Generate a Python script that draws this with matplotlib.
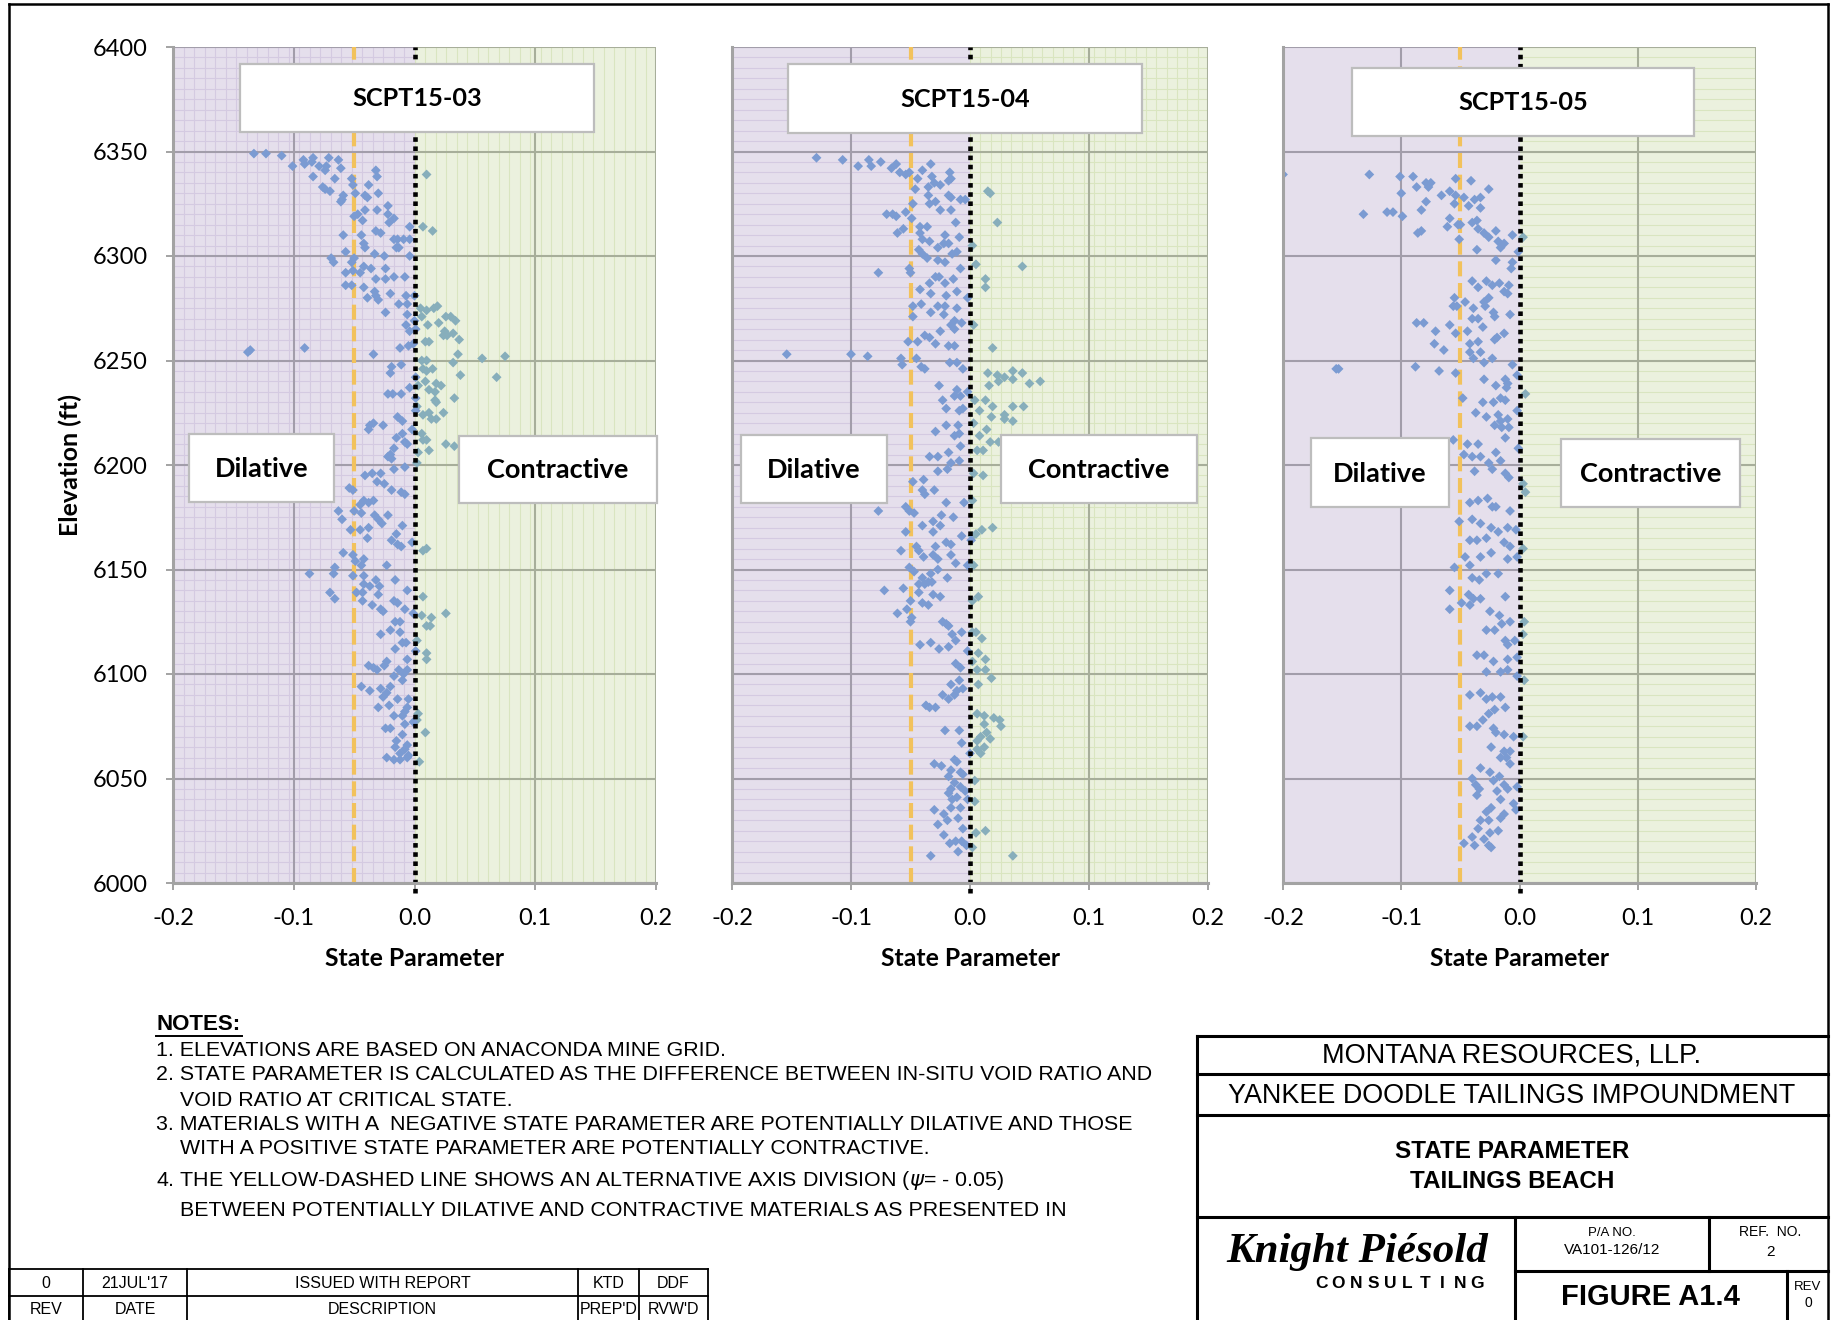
import numpy as np
import matplotlib
matplotlib.use('Agg')
import matplotlib.pyplot as plt
from matplotlib.patches import Rectangle

W, H = 1835, 1320

# state parameter (psi) vs elevation (ft)
pts_03 = [
    (-0.133, 6349), (-0.123, 6349), (-0.110, 6348), (-0.101, 6343), (-0.092, 6346), (-0.091, 6344), (-0.084, 6347),
    (-0.085, 6345), (-0.079, 6343), (-0.074, 6341), (-0.071, 6347), (-0.063, 6346), (-0.073, 6343), (-0.061, 6342),
    (-0.084, 6338), (-0.066, 6337), (-0.052, 6337), (-0.051, 6334), (-0.032, 6341), (-0.031, 6338), (-0.038, 6334),
    (0.010, 6339), (-0.076, 6333), (-0.074, 6332), (-0.070, 6331), (-0.059, 6329), (-0.060, 6327), (-0.061, 6326),
    (-0.049, 6330), (-0.041, 6329), (-0.039, 6328), (-0.030, 6330), (-0.022, 6324), (-0.022, 6320), (-0.017, 6318),
    (-0.021, 6316), (-0.031, 6322), (-0.041, 6322), (-0.047, 6320), (-0.043, 6317), (-0.050, 6319), (-0.032, 6312),
    (-0.028, 6311), (-0.059, 6310), (-0.044, 6310), (-0.042, 6306), (-0.041, 6304), (-0.017, 6308), (-0.014, 6308),
    (-0.009, 6308), (-0.004, 6308), (-0.015, 6304), (-0.013, 6304), (-0.004, 6314), (0.007, 6314), (0.015, 6312),
    (-0.057, 6302), (-0.033, 6301), (-0.025, 6300), (-0.004, 6300), (-0.069, 6299), (-0.067, 6297), (-0.050, 6299),
    (-0.052, 6297), (-0.042, 6295), (-0.036, 6294), (-0.057, 6292), (-0.051, 6293), (-0.045, 6292), (-0.024, 6294),
    (-0.008, 6290), (-0.032, 6289), (-0.024, 6289), (-0.017, 6290), (-0.057, 6286), (-0.052, 6286), (-0.042, 6285),
    (-0.039, 6280), (-0.032, 6281), (-0.030, 6279), (-0.033, 6283), (-0.020, 6282), (-0.007, 6281), (-0.013, 6277),
    (-0.006, 6277), (0.000, 6281), (-0.024, 6273), (-0.006, 6272), (0.005, 6275), (0.010, 6274), (0.016, 6275),
    (0.019, 6276), (0.026, 6271), (0.030, 6271), (0.034, 6269), (0.006, 6271), (0.000, 6269), (-0.007, 6267),
    (0.011, 6267), (0.020, 6268), (0.001, 6265), (-0.004, 6264), (0.025, 6264), (0.024, 6262), (0.027, 6262),
    (0.032, 6263), (0.037, 6260), (0.009, 6259), (0.012, 6259), (-0.001, 6258), (-0.012, 6256), (-0.005, 6257),
    (-0.091, 6256), (-0.138, 6254), (-0.136, 6255), (-0.034, 6253), (0.036, 6253), (0.056, 6251), (0.075, 6252),
    (0.010, 6250), (0.006, 6250), (0.032, 6249), (0.068, 6242), (0.038, 6243), (-0.019, 6247), (-0.011, 6248),
    (0.007, 6246), (0.010, 6245), (0.015, 6246), (-0.020, 6244), (0.001, 6242), (0.009, 6240), (0.003, 6238),
    (-0.004, 6237), (0.012, 6236), (0.018, 6239), (0.022, 6238), (0.017, 6235), (0.033, 6232), (-0.022, 6234),
    (-0.018, 6234), (-0.011, 6234), (0.001, 6232), (0.017, 6231), (0.018, 6230), (0.002, 6228), (0.001, 6226),
    (0.012, 6225), (0.024, 6225), (0.007, 6224), (0.014, 6222), (0.018, 6222), (-0.014, 6223), (-0.010, 6221),
    (-0.034, 6220), (-0.037, 6219), (-0.038, 6217), (-0.026, 6219), (-0.002, 6217), (-0.010, 6215), (-0.015, 6213),
    (0.006, 6215), (0.007, 6212), (0.010, 6212), (0.026, 6210), (0.033, 6209), (0.012, 6207), (-0.017, 6208),
    (-0.008, 6211), (-0.006, 6210), (-0.020, 6205), (-0.022, 6204), (-0.019, 6203), (0.002, 6201), (0.003, 6206),
    (-0.017, 6198), (-0.008, 6199), (-0.041, 6195), (-0.035, 6196), (-0.028, 6196), (-0.031, 6192), (-0.025, 6191),
    (-0.054, 6189), (-0.051, 6188), (-0.019, 6188), (-0.011, 6187), (-0.008, 6186), (-0.042, 6183), (-0.038, 6182),
    (-0.034, 6183), (-0.045, 6181), (-0.063, 6178), (-0.060, 6174), (-0.050, 6178), (-0.044, 6177), (-0.033, 6176),
    (-0.030, 6174), (-0.022, 6176), (-0.027, 6172), (-0.010, 6171), (-0.053, 6169), (-0.045, 6169), (-0.038, 6170),
    (-0.039, 6165), (-0.015, 6167), (-0.019, 6164), (-0.014, 6162), (-0.011, 6161), (-0.002, 6163), (0.007, 6159),
    (0.010, 6160), (-0.059, 6158), (-0.051, 6157), (-0.049, 6154), (-0.042, 6155), (-0.044, 6152), (-0.023, 6152),
    (-0.087, 6148), (-0.066, 6151), (-0.067, 6148), (-0.051, 6147), (-0.042, 6147), (-0.032, 6145), (-0.042, 6143),
    (-0.037, 6142), (-0.029, 6142), (-0.016, 6145), (-0.006, 6140), (-0.070, 6139), (-0.066, 6136), (-0.048, 6139),
    (-0.043, 6139), (-0.030, 6138), (-0.043, 6135), (-0.017, 6135), (-0.014, 6134), (0.007, 6137), (-0.035, 6133),
    (-0.028, 6131), (-0.026, 6130), (-0.008, 6131), (-0.001, 6129), (0.006, 6128), (0.014, 6127), (0.026, 6129),
    (-0.016, 6125), (-0.012, 6125), (0.010, 6123), (0.013, 6123), (-0.028, 6119), (-0.020, 6121), (-0.012, 6120),
    (0.002, 6116), (-0.010, 6115), (-0.007, 6115), (-0.016, 6112), (0.001, 6111), (0.010, 6110), (0.010, 6107),
    (-0.006, 6107), (-0.023, 6106), (-0.038, 6104), (-0.034, 6103), (-0.025, 6104), (-0.031, 6102), (-0.013, 6102),
    (-0.006, 6102), (-0.017, 6099), (-0.009, 6100), (-0.010, 6097), (-0.044, 6094), (-0.037, 6092), (-0.028, 6093),
    (-0.023, 6091), (-0.020, 6094), (-0.026, 6089), (-0.014, 6088), (-0.005, 6088), (-0.006, 6084), (-0.030, 6084),
    (-0.021, 6085), (0.003, 6081), (0.002, 6078), (-0.017, 6080), (-0.010, 6080), (-0.008, 6082), (-0.001, 6077),
    (-0.008, 6076), (-0.024, 6074), (-0.020, 6074), (-0.010, 6071), (0.009, 6072), (-0.015, 6068), (-0.016, 6065),
    (-0.006, 6066), (-0.008, 6064), (-0.012, 6062), (-0.005, 6061), (-0.023, 6060), (-0.017, 6059), (-0.012, 6059),
    (-0.006, 6060), (0.004, 6058),
]

pts_04 = [
    (-0.129, 6347), (-0.107, 6346), (-0.094, 6343), (-0.085, 6346), (-0.083, 6343), (-0.075, 6345), (-0.066, 6342),
    (-0.062, 6344), (-0.059, 6340), (-0.054, 6339), (-0.051, 6340), (-0.040, 6341), (-0.033, 6344), (-0.032, 6338),
    (-0.017, 6340), (-0.016, 6337), (-0.044, 6337), (-0.035, 6333), (-0.030, 6335), (-0.025, 6334), (-0.018, 6336),
    (-0.046, 6332), (-0.035, 6329), (-0.018, 6329), (-0.016, 6328), (-0.008, 6327), (-0.004, 6327), (0.015, 6331),
    (0.017, 6330), (-0.048, 6325), (-0.034, 6325), (-0.029, 6326), (-0.025, 6322), (-0.016, 6322), (-0.070, 6320),
    (-0.065, 6320), (-0.062, 6319), (-0.054, 6321), (-0.049, 6318), (0.023, 6316), (-0.012, 6316), (-0.042, 6314),
    (-0.036, 6314), (-0.056, 6313), (-0.061, 6311), (-0.042, 6311), (-0.040, 6308), (-0.034, 6307), (-0.021, 6310),
    (-0.009, 6309), (-0.027, 6304), (-0.022, 6306), (-0.018, 6306), (0.002, 6305), (-0.043, 6303), (-0.040, 6301),
    (-0.036, 6299), (-0.027, 6298), (-0.021, 6297), (-0.015, 6301), (-0.011, 6302), (0.005, 6296), (0.044, 6295),
    (-0.008, 6294), (-0.051, 6294), (-0.050, 6292), (-0.077, 6292), (-0.029, 6290), (-0.026, 6290), (-0.034, 6287),
    (-0.021, 6287), (-0.014, 6289), (0.013, 6289), (0.013, 6285), (-0.042, 6284), (-0.033, 6282), (-0.020, 6281),
    (-0.011, 6283), (-0.002, 6280), (-0.041, 6277), (-0.048, 6276), (-0.027, 6276), (-0.021, 6276), (-0.033, 6273),
    (-0.022, 6272), (-0.011, 6275), (-0.016, 6267), (-0.013, 6269), (-0.007, 6268), (0.003, 6267), (-0.048, 6271),
    (-0.013, 6265), (-0.038, 6262), (-0.034, 6261), (-0.025, 6264), (-0.044, 6259), (-0.052, 6259), (-0.029, 6258),
    (-0.018, 6257), (-0.013, 6257), (0.019, 6256), (-0.154, 6253), (-0.100, 6253), (-0.086, 6252), (-0.058, 6251),
    (-0.057, 6248), (-0.045, 6251), (-0.041, 6247), (-0.038, 6246), (-0.017, 6249), (-0.011, 6249), (-0.006, 6246),
    (0.015, 6244), (0.023, 6243), (0.029, 6242), (0.036, 6245), (0.044, 6244), (0.036, 6241), (0.050, 6239),
    (0.059, 6240), (0.016, 6238), (0.024, 6240), (-0.026, 6238), (-0.011, 6236), (-0.013, 6233), (-0.008, 6233),
    (-0.002, 6235), (-0.023, 6231), (0.004, 6231), (0.013, 6231), (0.019, 6228), (0.036, 6228), (0.045, 6228),
    (-0.020, 6227), (-0.009, 6226), (-0.006, 6227), (0.008, 6226), (0.029, 6224), (0.018, 6223), (0.029, 6222),
    (0.036, 6221), (0.003, 6220), (-0.010, 6219), (-0.020, 6219), (-0.029, 6216), (0.014, 6217), (-0.013, 6214),
    (-0.009, 6215), (0.008, 6214), (-0.008, 6209), (0.017, 6211), (0.024, 6211), (0.006, 6207), (0.011, 6207),
    (-0.034, 6204), (-0.027, 6204), (-0.018, 6206), (-0.016, 6201), (-0.009, 6202), (-0.027, 6197), (-0.019, 6198),
    (0.003, 6196), (0.011, 6195), (-0.048, 6192), (-0.039, 6193), (-0.038, 6186), (-0.040, 6188), (-0.030, 6188),
    (-0.020, 6182), (-0.005, 6182), (0.002, 6183), (-0.077, 6178), (-0.054, 6180), (-0.051, 6178), (-0.047, 6177),
    (-0.024, 6176), (-0.014, 6175), (-0.031, 6173), (-0.025, 6171), (-0.040, 6171), (-0.054, 6168), (-0.031, 6168),
    (0.010, 6169), (0.019, 6170), (-0.007, 6166), (0.002, 6166), (0.005, 6167), (0.001, 6164), (-0.020, 6163),
    (-0.016, 6162), (-0.058, 6159), (-0.045, 6161), (-0.043, 6159), (-0.039, 6156), (-0.029, 6161), (-0.031, 6157),
    (-0.027, 6155), (-0.016, 6157), (-0.012, 6153), (-0.002, 6152), (0.003, 6152), (-0.051, 6151), (-0.047, 6149),
    (-0.033, 6148), (-0.027, 6150), (-0.040, 6146), (-0.019, 6146), (-0.043, 6143), (-0.038, 6143), (-0.035, 6144),
    (-0.032, 6144), (-0.072, 6140), (-0.056, 6141), (-0.043, 6139), (-0.031, 6138), (-0.025, 6137), (0.007, 6137),
    (-0.050, 6135), (-0.040, 6134), (-0.035, 6133), (0.002, 6135), (-0.061, 6129), (-0.053, 6131), (-0.049, 6127),
    (-0.050, 6125), (-0.023, 6125), (-0.020, 6124), (-0.018, 6123), (-0.007, 6120), (0.002, 6120), (0.005, 6120),
    (-0.015, 6119), (0.010, 6117), (-0.042, 6114), (-0.033, 6115), (-0.026, 6112), (-0.018, 6113), (-0.012, 6116),
    (-0.002, 6111), (0.007, 6110), (0.013, 6107), (-0.012, 6105), (-0.008, 6103), (0.002, 6106), (0.006, 6102),
    (0.013, 6102), (0.018, 6098), (-0.016, 6095), (-0.009, 6097), (-0.006, 6093), (0.007, 6095), (-0.023, 6090),
    (-0.018, 6088), (-0.013, 6090), (-0.011, 6092), (-0.037, 6085), (-0.034, 6084), (-0.029, 6084), (0.006, 6081),
    (0.012, 6080), (0.020, 6079), (0.025, 6078), (0.026, 6075), (0.012, 6076), (-0.021, 6073), (-0.009, 6073),
    (0.014, 6072), (0.009, 6070), (0.017, 6069), (-0.007, 6067), (0.006, 6068), (0.012, 6065), (0.006, 6064),
    (0.000, 6062), (0.009, 6062), (-0.030, 6057), (-0.013, 6059), (-0.011, 6058), (-0.024, 6056), (-0.016, 6054),
    (-0.008, 6053), (-0.006, 6052), (-0.018, 6051), (0.004, 6049), (-0.013, 6048), (-0.016, 6045), (-0.008, 6046),
    (-0.004, 6044), (-0.018, 6043), (-0.011, 6041), (-0.015, 6040), (-0.002, 6040), (0.004, 6039), (-0.016, 6036),
    (-0.008, 6036), (-0.030, 6035), (-0.022, 6033), (-0.027, 6028), (-0.019, 6030), (-0.010, 6031), (-0.006, 6026),
    (0.005, 6024), (0.013, 6025), (-0.022, 6023), (-0.017, 6019), (-0.012, 6020), (-0.007, 6020), (-0.003, 6018),
    (0.002, 6017), (-0.010, 6015), (-0.033, 6013), (0.036, 6013),
]

pts_05 = [
    (-0.200, 6339), (-0.127, 6339), (-0.101, 6338), (-0.090, 6338), (-0.087, 6333), (-0.079, 6335), (-0.077, 6333),
    (-0.075, 6335), (-0.100, 6330), (-0.066, 6329), (-0.059, 6331), (-0.054, 6337), (-0.041, 6336), (-0.047, 6328),
    (-0.054, 6329), (-0.079, 6326), (-0.083, 6322), (-0.055, 6325), (-0.043, 6324), (-0.038, 6327), (-0.033, 6328),
    (-0.026, 6332), (-0.033, 6323), (-0.132, 6320), (-0.112, 6321), (-0.107, 6321), (-0.099, 6319), (-0.059, 6318),
    (-0.052, 6315), (-0.050, 6315), (-0.061, 6314), (-0.040, 6316), (-0.036, 6317), (-0.035, 6313), (-0.086, 6311),
    (-0.083, 6312), (-0.051, 6308), (-0.030, 6311), (-0.026, 6309), (-0.020, 6312), (-0.006, 6310), (0.003, 6309),
    (-0.018, 6307), (-0.013, 6306), (-0.016, 6304), (-0.036, 6303), (-0.001, 6302), (-0.006, 6297), (-0.020, 6298),
    (-0.007, 6294), (-0.040, 6288), (-0.035, 6285), (-0.028, 6288), (-0.023, 6286), (-0.017, 6287), (-0.009, 6286),
    (-0.013, 6283), (-0.010, 6282), (-0.055, 6280), (-0.046, 6278), (-0.053, 6276), (-0.056, 6276), (-0.030, 6278),
    (-0.026, 6280), (-0.029, 6276), (-0.022, 6273), (-0.021, 6271), (-0.008, 6272), (-0.039, 6275), (-0.035, 6270),
    (-0.040, 6270), (-0.087, 6268), (-0.081, 6268), (-0.059, 6267), (-0.054, 6263), (-0.044, 6264), (-0.031, 6266),
    (-0.071, 6264), (-0.072, 6258), (-0.064, 6255), (-0.042, 6258), (-0.035, 6259), (-0.019, 6261), (-0.013, 6263),
    (-0.021, 6260), (-0.042, 6254), (-0.033, 6254), (-0.030, 6249), (-0.039, 6251), (-0.023, 6251), (-0.155, 6246),
    (-0.153, 6246), (-0.088, 6247), (-0.068, 6245), (-0.054, 6244), (-0.006, 6248), (-0.002, 6243), (-0.030, 6241),
    (-0.012, 6241), (-0.010, 6239), (-0.011, 6237), (-0.020, 6238), (0.005, 6234), (-0.048, 6232), (-0.031, 6230),
    (-0.022, 6230), (-0.016, 6232), (-0.012, 6231), (-0.002, 6226), (-0.037, 6225), (-0.028, 6223), (-0.018, 6224),
    (-0.016, 6221), (-0.010, 6222), (-0.021, 6219), (-0.015, 6218), (-0.009, 6218), (-0.012, 6213), (-0.001, 6208),
    (-0.056, 6212), (-0.044, 6210), (-0.035, 6210), (-0.020, 6206), (-0.047, 6205), (-0.040, 6204), (-0.033, 6204),
    (-0.026, 6201), (-0.016, 6202), (-0.038, 6197), (-0.023, 6198), (-0.012, 6196), (0.003, 6191), (-0.009, 6194),
    (0.005, 6187), (-0.042, 6182), (-0.035, 6183), (-0.027, 6184), (-0.023, 6180), (-0.020, 6180), (-0.008, 6178),
    (-0.051, 6173), (-0.040, 6174), (-0.033, 6172), (-0.024, 6170), (-0.018, 6168), (-0.010, 6170), (-0.003, 6169),
    (-0.042, 6164), (-0.036, 6164), (-0.028, 6165), (-0.013, 6163), (-0.008, 6161), (0.003, 6160), (-0.046, 6156),
    (-0.033, 6156), (-0.024, 6158), (-0.010, 6155), (-0.002, 6156), (-0.055, 6151), (-0.042, 6152), (-0.028, 6148),
    (-0.018, 6148), (-0.040, 6146), (-0.034, 6145), (-0.059, 6140), (-0.043, 6138), (-0.039, 6136), (-0.033, 6136),
    (-0.012, 6137), (-0.059, 6131), (-0.049, 6134), (-0.042, 6133), (-0.025, 6130), (0.004, 6125), (-0.017, 6128),
    (-0.008, 6125), (-0.028, 6121), (-0.021, 6121), (-0.015, 6124), (0.003, 6119), (-0.012, 6116), (-0.010, 6114),
    (-0.004, 6116), (-0.036, 6109), (-0.030, 6109), (-0.022, 6106), (-0.010, 6107), (-0.002, 6108), (-0.028, 6101),
    (-0.016, 6101), (-0.010, 6102), (-0.002, 6099), (0.004, 6097), (-0.042, 6090), (-0.033, 6091), (-0.028, 6088),
    (-0.023, 6089), (-0.016, 6089), (-0.012, 6084), (-0.021, 6083), (-0.026, 6081), (-0.031, 6078), (-0.042, 6075),
    (-0.036, 6075), (-0.022, 6074), (-0.020, 6072), (-0.013, 6071), (0.003, 6070), (-0.005, 6070), (-0.024, 6065),
    (-0.013, 6063), (-0.008, 6063), (-0.016, 6060), (-0.011, 6060), (-0.008, 6057), (-0.033, 6055), (-0.025, 6053),
    (-0.017, 6051), (-0.040, 6050), (-0.037, 6047), (-0.022, 6049), (-0.013, 6047), (-0.036, 6042), (-0.034, 6045),
    (-0.019, 6044), (-0.010, 6045), (-0.002, 6046), (-0.016, 6040), (-0.005, 6038), (-0.024, 6036), (-0.028, 6034),
    (-0.013, 6033), (-0.003, 6035), (-0.033, 6030), (-0.026, 6030), (-0.016, 6031), (-0.035, 6026), (-0.025, 6024),
    (-0.018, 6025), (-0.040, 6022), (-0.030, 6021), (-0.047, 6019), (-0.038, 6018), (-0.026, 6018), (-0.024, 6017),
]

holes = ['SCPT15-03', 'SCPT15-04', 'SCPT15-05']
x_ticks = [-0.2, -0.1, 0.0, 0.1, 0.2]
y_ticks = [6000, 6050, 6100, 6150, 6200, 6250, 6300, 6350, 6400]
psi_alt = -0.05

notes = [
    '1. ELEVATIONS ARE BASED ON ANACONDA MINE GRID.',
    '2. STATE PARAMETER IS CALCULATED AS THE DIFFERENCE BETWEEN IN-SITU VOID RATIO AND',
    '    VOID RATIO AT CRITICAL STATE.',
    '3. MATERIALS WITH A  NEGATIVE STATE PARAMETER ARE POTENTIALLY DILATIVE AND THOSE',
    '    WITH A POSITIVE STATE PARAMETER ARE POTENTIALLY CONTRACTIVE.',
    '4. THE YELLOW-DASHED LINE SHOWS AN ALTERNATIVE AXIS DIVISION ($\\psi$= - 0.05)',
    '    BETWEEN POTENTIALLY DILATIVE AND CONTRACTIVE MATERIALS AS PRESENTED IN',
]
rev_row = ['0', "21JUL'17", 'ISSUED WITH REPORT', 'KTD', 'DDF']
rev_head = ['REV', 'DATE', 'DESCRIPTION', "PREP'D", "RVW'D"]

CHART_FONT = ['Lato', 'DejaVu Sans']
DWG_FONT = ['Liberation Sans', 'DejaVu Sans']

PURPLE, PURPLE_LN, PURPLE_GRID = '#e5dfec', '#d4cae1', '#a29daa'
GREEN, GREEN_LN, GREEN_GRID = '#ebf1de', '#d9e5c0', '#a7ae9a'
BLUE_PT, TEAL_PT = '#7b9bd2', '#87aebb'

fig = plt.figure(figsize=(W / 100, H / 100), dpi=100)

# panel extents in pixels (x from left, y from top)
panel_px = [(173, 656), (732, 1208), (1283, 1756)]
top_px, bot_px = 47, 883
# minor pattern lines: (purple vertical, purple horizontal, green vertical, green horizontal)
patterns = [(True, True, True, False), (False, True, True, True), (False, False, False, True)]

xs_minor_neg = np.arange(0, -0.2001, -0.2 / 23)
xs_minor_pos = np.arange(0, 0.2001, 0.2 / 23)
ys_minor = np.arange(6000, 6401, 5)

axes = []
for i, (x0, x1) in enumerate(panel_px):
    ax = fig.add_axes([x0 / W, 1 - bot_px / H, (x1 - x0) / W, (bot_px - top_px) / H])
    ax.set_xlim(-0.2, 0.2)
    ax.set_ylim(6000, 6400)
    ax.axvspan(-0.2, 0, color=PURPLE, lw=0, zorder=0)
    ax.axvspan(0, 0.2, color=GREEN, lw=0, zorder=0)

    pv, ph, gv, gh = patterns[i]
    if pv:
        ax.vlines(xs_minor_neg, 6000, 6400, color=PURPLE_LN, lw=0.8, zorder=1)
    if ph:
        ax.hlines(ys_minor, -0.2, 0, color=PURPLE_LN, lw=0.8, zorder=1)
    if gv:
        ax.vlines(xs_minor_pos, 6000, 6400, color=GREEN_LN, lw=0.8, zorder=1)
    if gh:
        ax.hlines(ys_minor, 0, 0.2, color=GREEN_LN, lw=0.8, zorder=1)

    ax.vlines([-0.2, -0.1], 6000, 6400, color=PURPLE_GRID, lw=1.5, zorder=2)
    ax.vlines([0.1, 0.2], 6000, 6400, color=GREEN_GRID, lw=1.5, zorder=2)
    ax.hlines(y_ticks, -0.2, 0, color=PURPLE_GRID, lw=1.5, zorder=2)
    ax.hlines(y_ticks, 0, 0.2, color=GREEN_GRID, lw=1.5, zorder=2)

    ax.vlines(psi_alt, 6000, 6400, color='#f2c25c', lw=3.0, linestyles=(0, (3.6, 1.6)), zorder=3)

    pts = np.array([pts_03, pts_04, pts_05][i])
    psi, elev = pts[:, 0], pts[:, 1]
    cols = np.where(psi > 0.001, TEAL_PT, BLUE_PT)
    ax.scatter(psi, elev, marker='D', s=25, c=cols, linewidths=0, zorder=4)

    ax.vlines(0, 5995, 6400, color='black', lw=3.3, linestyles=(0, (1, 1)), zorder=5, clip_on=False)

    for side in ['top', 'right']:
        ax.spines[side].set_visible(False)
    for side in ['left', 'bottom']:
        ax.spines[side].set_color('#a3a3a3')
        ax.spines[side].set_linewidth(2.2)
        ax.spines[side].set_zorder(6)

    ax.set_xticks(x_ticks)
    ax.set_xticklabels(['%.1f' % v for v in x_ticks], fontsize=17, family=CHART_FONT)
    ax.tick_params(axis='x', direction='out', length=5, width=1.4, color='#a3a3a3', pad=13)
    ax.set_yticks(y_ticks)
    if i == 0:
        ax.set_yticklabels([str(v) for v in y_ticks], fontsize=17, family=CHART_FONT)
        ax.tick_params(axis='y', direction='out', length=5, width=1.4, color='#a3a3a3', pad=13)
    else:
        ax.set_yticklabels([])
        ax.tick_params(axis='y', length=0)
    axes.append(ax)

# drawing sheet overlay in pixel coordinates
page = fig.add_axes([0, 0, 1, 1], zorder=10)
page.set_xlim(0, W)
page.set_ylim(H, 0)
page.axis('off')
page.patch.set_alpha(0)


def label_box(x0, y0, x1, y1, text, size):
    page.add_patch(Rectangle((x0, y0), x1 - x0, y1 - y0, facecolor='white', edgecolor='#bdbdbd', lw=1.6))
    page.text((x0 + x1) / 2, (y0 + y1) / 2 + 1, text, ha='center', va='center', fontsize=size,
              fontweight='bold', family=CHART_FONT)


title_boxes = [(240, 64, 594, 132), (788, 64, 1142, 133), (1352, 68, 1694, 136)]
dil_boxes = [(189, 434, 334, 502), (741, 435, 887, 503), (1311, 438, 1449, 507)]
con_boxes = [(459, 436, 657, 503), (1001, 435, 1197, 503), (1561, 439, 1740, 507)]
for i in range(3):
    label_box(*title_boxes[i], holes[i], 18.2)
    label_box(*dil_boxes[i], 'Dilative', 19.5)
    label_box(*con_boxes[i], 'Contractive', 19.5)
    xc = (panel_px[i][0] + panel_px[i][1]) / 2
    page.text(xc, 958, 'State Parameter', ha='center', va='center', fontsize=17.8,
              fontweight='bold', family=CHART_FONT)

page.text(70, 465, 'Elevation (ft)', ha='center', va='center', rotation=90, fontsize=18,
          fontweight='bold', family=CHART_FONT)

# outer frame
line_kw = dict(color='black', lw=1.8)
page.plot([9, 9], [4, H], **line_kw)
page.plot([9, 1828], [4, 4], **line_kw)
page.plot([1828, 1828], [4, H], **line_kw)

# notes
page.text(156, 1025, 'NOTES:', ha='left', va='center', fontsize=16, fontweight='bold', family=DWG_FONT)
page.plot([156, 242], [1036, 1036], color='black', lw=1.4)
note_y = [1051, 1075, 1100, 1124, 1149, 1180, 1210]
for yy, txt in zip(note_y, notes):
    page.text(156, yy, txt, ha='left', va='center', fontsize=15.4, family=DWG_FONT)

# revision table
col_x = [9, 83, 187, 578, 639, 708]
row_y = [1269, 1296, 1320]
for yy in row_y[:2]:
    page.plot([col_x[0], col_x[-1]], [yy, yy], color='black', lw=1.3)
for xx in col_x:
    page.plot([xx, xx], [row_y[0], row_y[-1]], color='black', lw=1.3)
for j in range(5):
    xc = (col_x[j] + col_x[j + 1]) / 2
    page.text(xc, 1283, rev_row[j], ha='center', va='center', fontsize=11.5, family=DWG_FONT)
    page.text(xc, 1309, rev_head[j], ha='center', va='center', fontsize=11.5, family=DWG_FONT)

# title block
tb_kw = dict(color='black', lw=2.2)
page.plot([1197, 1828], [1036, 1036], **tb_kw)
page.plot([1197, 1197], [1036, H], **tb_kw)
for yy in [1074, 1115, 1217]:
    page.plot([1197, 1828], [yy, yy], **tb_kw)
page.plot([1515, 1515], [1217, H], **tb_kw)
page.plot([1515, 1828], [1271, 1271], **tb_kw)
page.plot([1709, 1709], [1217, 1271], **tb_kw)
page.plot([1787, 1787], [1271, H], **tb_kw)

page.text(1512, 1056, 'MONTANA RESOURCES, LLP.', ha='center', va='center', fontsize=19.5, family=DWG_FONT)
page.text(1512, 1096, 'YANKEE DOODLE TAILINGS IMPOUNDMENT', ha='center', va='center', fontsize=19.4,
          family=DWG_FONT)
page.text(1512, 1152, 'STATE PARAMETER', ha='center', va='center', fontsize=17.5, fontweight='bold',
          family=DWG_FONT)
page.text(1512, 1181, 'TAILINGS BEACH', ha='center', va='center', fontsize=17.5, fontweight='bold',
          family=DWG_FONT)
page.text(1612, 1233, 'P/A NO.', ha='center', va='center', fontsize=9.5, family=DWG_FONT)
page.text(1612, 1250, 'VA101-126/12', ha='center', va='center', fontsize=11, family=DWG_FONT)
page.text(1770, 1232, 'REF.  NO.', ha='center', va='center', fontsize=10, family=DWG_FONT)
page.text(1770, 1252, '2', ha='center', va='center', fontsize=11, family=DWG_FONT)
page.text(1650, 1297, 'FIGURE A1.4', ha='center', va='center', fontsize=21, fontweight='bold',
          family=DWG_FONT)
page.text(1808, 1287, 'REV', ha='center', va='center', fontsize=9.5, family=DWG_FONT)
page.text(1808, 1303, '0', ha='center', va='center', fontsize=10, family=DWG_FONT)

# logo
page.text(1357, 1252, 'Knight Piésold', ha='center', va='center', fontsize=31, fontweight='bold',
          style='italic', family=['Liberation Serif', 'DejaVu Serif'])
for xx, ch in zip(np.linspace(1321, 1477, 10), 'CONSULTING'):
    page.text(xx, 1283, ch, ha='center', va='center', fontsize=12.5, fontweight='heavy', family=DWG_FONT)

fig.savefig('out.png', dpi=100)
